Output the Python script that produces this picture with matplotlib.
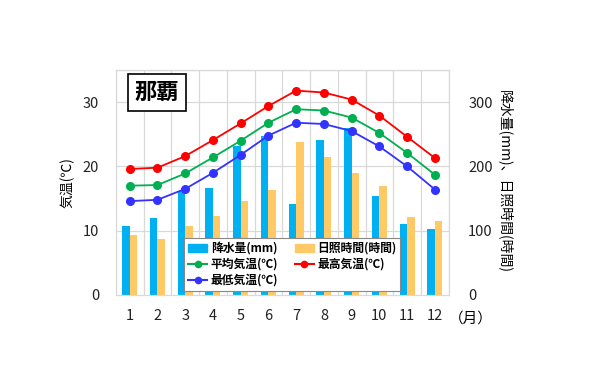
import numpy as np
import matplotlib.pyplot as plt
from matplotlib.patches import Patch
from matplotlib.lines import Line2D

plt.rcParams['font.family'] = ['Noto Sans CJK JP', 'DejaVu Sans']

months = ['1', '2', '3', '4', '5', '6', '7', '8', '9', '10', '11', '12']
temp_max = [19.6, 19.8, 21.6, 24.1, 26.7, 29.4, 31.8, 31.5, 30.4, 27.9, 24.6, 21.3]
temp_mean = [17.0, 17.1, 18.9, 21.4, 24.0, 26.8, 28.9, 28.7, 27.6, 25.2, 22.1, 18.7]
temp_min = [14.6, 14.8, 16.5, 19.0, 21.8, 24.8, 26.8, 26.6, 25.5, 23.1, 20.0, 16.4]
precip = [107, 120, 161, 166, 232, 247, 141, 241, 260, 154, 110, 103]
sunshine = [94, 87, 108, 123, 146, 164, 238, 215, 189, 169, 122, 115]

c_rain = '#00b0f0'
c_sun = '#ffc966'
c_max = '#ff0000'
c_mean = '#00b050'
c_min = '#3333ff'
grid_c = '#d9d9d9'

fig = plt.figure(figsize=(6, 3.87), dpi=100)
ax = fig.add_axes([0.193, 0.238, 0.555, 0.581])
ax2 = ax.twinx()
ax.set_zorder(ax2.get_zorder() + 1)
ax.patch.set_visible(False)

x = np.arange(1, 13)
w = 0.27
ax2.bar(x - w / 2, precip, width=w, color=c_rain, zorder=2)
ax2.bar(x + w / 2, sunshine, width=w, color=c_sun, zorder=2)
ax2.set_ylim(0, 350)
ax2.set_yticks([0, 100, 200, 300])

# grid on the lower axes
for yv in [100, 200, 300, 350]:
    ax2.axhline(yv, color=grid_c, lw=0.9, zorder=0)
for xv in np.arange(0.5, 13, 1):
    ax2.axvline(xv, color=grid_c, lw=0.9, zorder=0)

ms = 5.5
ax.plot(x, temp_max, color=c_max, marker='o', ms=ms, lw=1.3)
ax.plot(x, temp_mean, color=c_mean, marker='o', ms=ms, lw=1.3)
ax.plot(x, temp_min, color=c_min, marker='o', ms=ms, lw=1.3)
ax.set_ylim(0, 35)
ax.set_xlim(0.5, 12.5)
ax.set_yticks([0, 10, 20, 30])
ax.set_xticks(x)
ax.set_xticklabels(months)

for a in (ax, ax2):
    for s in a.spines.values():
        s.set_color(grid_c)
    a.tick_params(length=0, labelsize=10.5, colors='#222222')
ax.tick_params(axis='y', pad=12)
ax2.tick_params(axis='y', pad=14)
ax.tick_params(axis='x', pad=10)

ax.set_ylabel('気温(℃)', fontsize=10, labelpad=6)
fig.text(0.842, 0.53, '降水量(mm)、日照時間(時間)', rotation=270,
         ha='center', va='center', fontsize=10)
fig.text(0.785, 0.178, '（月）', ha='center', va='center', fontsize=10.5)

ax.text(0.123, 0.9, '那覇', transform=ax.transAxes, ha='center', va='center',
        fontsize=16, fontweight='bold',
        bbox=dict(boxstyle='square,pad=0.3', fc='white', ec='black', lw=1.2))

handles = [
    Patch(color=c_rain, label='降水量(mm)'),
    Line2D([], [], color=c_mean, marker='o', ms=4.5, label='平均気温(℃)'),
    Line2D([], [], color=c_min, marker='o', ms=4.5, label='最低気温(℃)'),
    Patch(color=c_sun, label='日照時間(時間)'),
    Line2D([], [], color=c_max, marker='o', ms=4.5, label='最高気温(℃)'),
]
leg = ax.legend(handles=handles, ncol=2, loc='lower left',
                bbox_to_anchor=(0.205, 0.018), frameon=True, framealpha=1,
                fancybox=False, edgecolor='#888888', handlelength=1.6,
                handletextpad=0.3, columnspacing=1.4, labelspacing=0.25,
                borderpad=0.35, borderaxespad=0,
                prop={'weight': 'bold', 'size': 8.5})
leg.get_frame().set_linewidth(0.8)

fig.savefig('out.png', dpi=100)
